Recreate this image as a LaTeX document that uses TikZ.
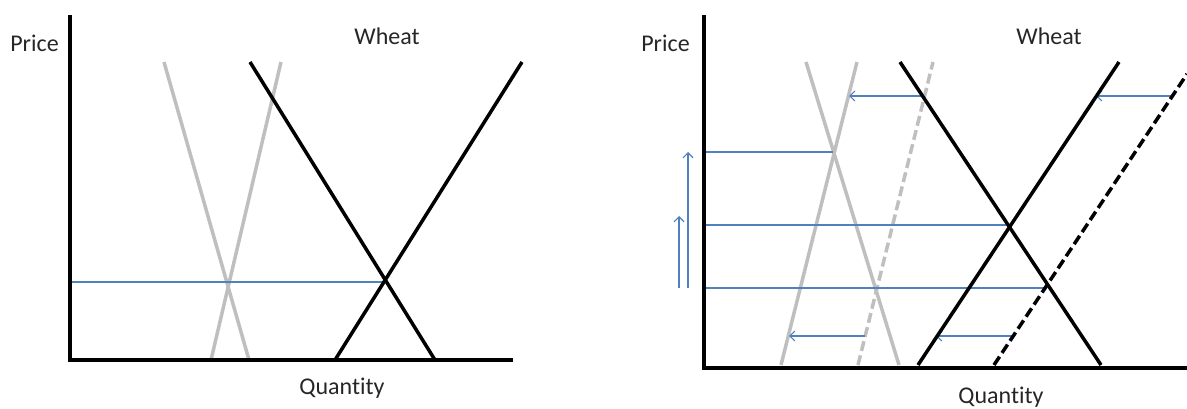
\documentclass[tikz,border=0pt]{standalone}
\usepackage{fontspec}
\setmainfont{Carlito}[Ligatures=NoCommon]
\usetikzlibrary{arrows.meta}
\definecolor{gblue}{RGB}{79,129,189}
\definecolor{lgray}{RGB}{191,191,191}
\definecolor{txt}{RGB}{38,38,38}
\begin{document}
\begin{tikzpicture}[x=1pt,y=-1pt,
  axis/.style={line width=4pt},
  curve/.style={line width=3.5pt,black},
  gcurve/.style={line width=3.5pt,lgray},
  dcurve/.style={dash pattern=on 10pt off 4.5pt},
  guide/.style={gblue,line width=1.2pt},
  shiftarrow/.style={gblue,line width=1.2pt,-{Straight Barb[length=5pt,width=10pt,line width=1.2pt]}},
  lbl/.style={font=\fontsize{24}{28}\selectfont, inner sep=0pt, text=txt}]
\useasboundingbox (0,0) rectangle (1187,408);
% ---------------- left graph ----------------
\draw[gcurve] (164,62) -- (249,360);
\draw[gcurve] (211,360) -- (281,62);
\draw[guide] (70,282) -- (385,282);
\draw[curve] (250,62) -- (435,360);
\draw[curve] (335,360) -- (522,62);
\draw[axis] (70,15) -- (70,360) -- (513,360);
\node[lbl] (lprice) at (34.5,43) {Price};
\node[lbl] (lwheat) at (387,36) {Wheat};
\node[lbl] (lqty) at (342,388) {Quantity};
% ---------------- right graph ----------------
\draw[gcurve] (806,62) -- (899,365);
\draw[gcurve] (781,365) -- (857,62);
\draw[gcurve,dcurve] (858,365) -- (933,62);
\draw[guide] (704,152) -- (833,152);
\draw[guide] (704,225) -- (1008,225);
\draw[guide] (704,288) -- (1047,288);
\draw[shiftarrow] (924,96) -- (849,96);
\draw[shiftarrow] (1172,96) -- (1096,96);
\draw[shiftarrow] (865,336) -- (789,336);
\draw[shiftarrow] (1012,336) -- (936,336);
\draw[shiftarrow] (688,288) -- (688,152);
\draw[shiftarrow] (679,288) -- (679,216);
\draw[curve] (900,62) -- (1101,365);
\draw[curve] (918,365) -- (1119,62);
\draw[curve,dcurve] (994,365) -- (1187,74);
\draw[axis] (704,15) -- (704,368) -- (1187,368);
\node[lbl] (rprice) at (665.5,43) {Price};
\node[lbl] (rwheat) at (1049,36) {Wheat};
\node[lbl] (rqty) at (1001,397) {Quantity};
\end{tikzpicture}
\end{document}
